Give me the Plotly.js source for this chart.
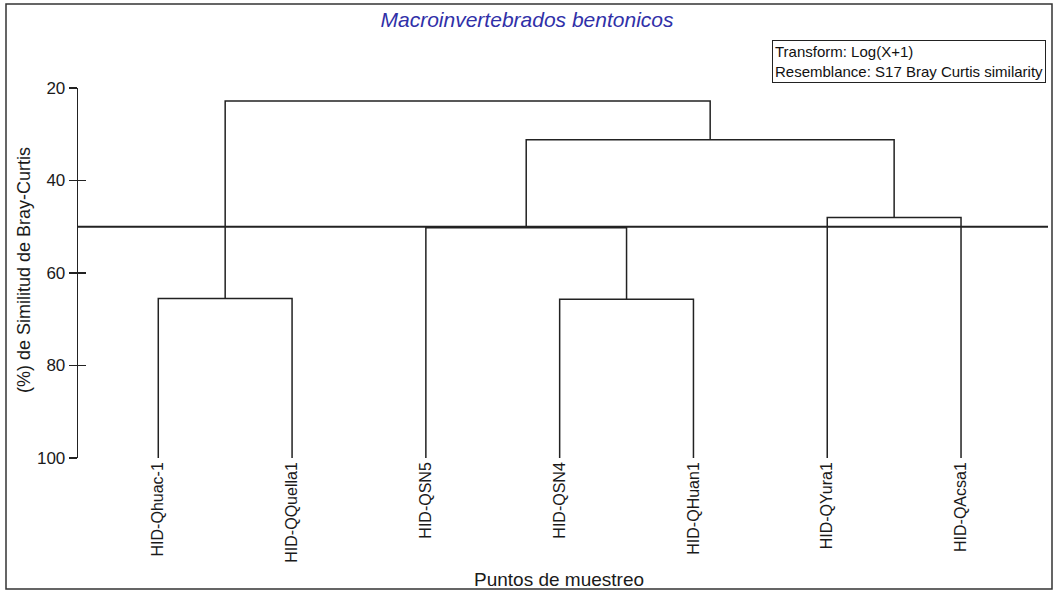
<!DOCTYPE html>
<html>
<head>
<meta charset="utf-8">
<script src="https://cdn.plot.ly/plotly-3.0.1.min.js"></script>
<style>html,body{margin:0;padding:0;background:#fff;}#chart{width:1056px;height:591px;}</style>
</head>
<body>
<div id="chart"></div>
<script>
// Leaves (sampling points) in dendrogram order
const leaves = ['HID-Qhuac-1', 'HID-QQuella1', 'HID-QSN5', 'HID-QSN4', 'HID-QHuan1', 'HID-QYura1', 'HID-QAcsa1'];
// Linkage: node ids 0..6 are leaves, 7.. are merged clusters
const mergeLeft   = [0, 3, 2, 5, 9, 7];
const mergeRight  = [1, 4, 8, 6, 10, 11];
const mergeHeight = [65.5, 65.7, 50.2, 48.0, 31.2, 22.8];   // % Bray-Curtis similarity
const leafSimilarity = 100;
const cutoff = [50];
const yTicks = [20, 40, 60, 80, 100];

const chartTitle = 'Macroinvertebrados bentonicos';
const yTitle = '(%) de Similitud de Bray-Curtis';
const xTitle = 'Puntos de muestreo';
const infoLines = ['Transform: Log(X+1)', 'Resemblance: S17 Bray Curtis similarity'];

// positions of nodes
const nodeX = leaves.map((_, i) => i + 1);
const nodeH = leaves.map(() => leafSimilarity);
const lx = [], ly = [];
for (let k = 0; k < mergeHeight.length; k++) {
  const a = mergeLeft[k], b = mergeRight[k], h = mergeHeight[k];
  lx.push(nodeX[a], nodeX[a], nodeX[b], nodeX[b], null);
  ly.push(nodeH[a], h, h, nodeH[b], null);
  nodeX.push((nodeX[a] + nodeX[b]) / 2);
  nodeH.push(h);
}

const L = 78, R = 8, T = 88, B = 133, W = 1056, H = 591;
const pw = W - L - R, ph = H - T - B;
const px = v => (v - L) / pw;       // pixel -> paper x
const py = v => (H - B - v) / ph;   // pixel -> paper y

const sans = 'Liberation Sans, Arial, sans-serif';
const narrow = 'Liberation Sans Narrow, Arial Narrow, Liberation Sans, Arial, sans-serif';
const axisFont = {family: sans, size: 17, color: '#1a1a1a'};

const traces = [
  {x: lx, y: ly, type: 'scatter', mode: 'lines', line: {color: '#222', width: 1.5},
   hoverinfo: 'skip', showlegend: false},
  {x: [null], y: [null], yaxis: 'y2', type: 'scatter', mode: 'lines', hoverinfo: 'skip', showlegend: false}
];

const layout = {
  width: W, height: H,
  margin: {l: L, r: R, t: T, b: B},
  paper_bgcolor: '#fff', plot_bgcolor: 'rgba(0,0,0,0)',
  showlegend: false,
  title: {text: '<i>' + chartTitle + '</i>', xref: 'container', x: 527 / W, xanchor: 'center',
          yref: 'container', y: 1 - 20 / H, yanchor: 'middle',
          font: {family: sans, size: 21, color: '#3030a8'}},
  xaxis: {range: [0.4, 7.65], tickvals: leaves.map((_, i) => i + 1), ticktext: leaves,
          tickangle: -90, ticks: '', showline: false, showgrid: false, zeroline: false,
          tickfont: {family: sans, size: 16, color: '#1a1a1a'}, fixedrange: true},
  yaxis: {range: [100, 20], tickvals: yTicks, ticks: 'outside', ticklen: 8, tickwidth: 1.3, tickcolor: '#222',
          showline: true, linecolor: '#222', linewidth: 1.3, showgrid: false, zeroline: false,
          tickfont: axisFont, fixedrange: true},
  yaxis2: {range: [100, 20], overlaying: 'y', side: 'left', tickvals: yTicks, ticks: 'inside', ticklen: 8,
           tickwidth: 1.3, tickcolor: '#222', showticklabels: false, showline: false, showgrid: false,
           zeroline: false, fixedrange: true},
  shapes: [
    {type: 'line', xref: 'paper', yref: 'y', x0: 0, x1: 1, y0: cutoff[0], y1: cutoff[0],
     line: {color: '#222', width: 1.8}},
    {type: 'rect', xref: 'paper', yref: 'paper', x0: px(6), x1: px(1052), y0: py(589), y1: py(4),
     line: {color: '#333', width: 1.5}}
  ],
  annotations: [
    {text: infoLines.join('<br>'), xref: 'paper', yref: 'paper', x: px(772), y: py(40),
     xanchor: 'left', yanchor: 'top', align: 'left', showarrow: false,
     bordercolor: '#222', borderwidth: 1, borderpad: 2, bgcolor: '#fff',
     font: {family: narrow, size: 15, color: '#111'}},
    {text: yTitle, xref: 'paper', yref: 'paper', x: px(24), y: py(270), textangle: -90,
     xanchor: 'center', yanchor: 'middle', showarrow: false,
     font: {family: sans, size: 18, color: '#1a1a1a'}},
    {text: xTitle, xref: 'paper', yref: 'paper', x: px(559), y: py(579),
     xanchor: 'center', yanchor: 'middle', showarrow: false,
     font: {family: narrow, size: 19, color: '#1a1a1a'}}
  ]
};

Plotly.newPlot('chart', traces, layout, {displayModeBar: false, staticPlot: true});
</script>
</body>
</html>
